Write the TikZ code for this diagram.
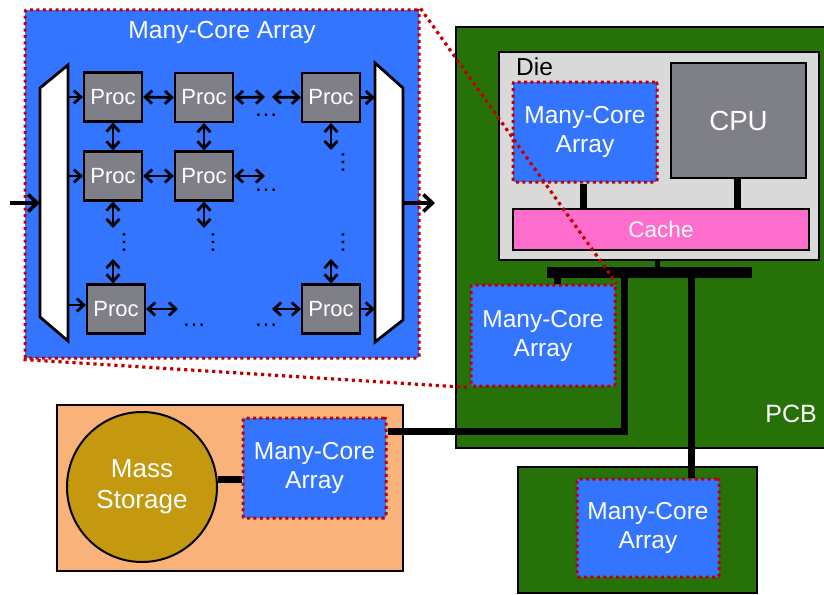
\documentclass[tikz,border=0pt]{standalone}
\usepackage{fontspec}
\setmainfont{Liberation Sans}
\usetikzlibrary{arrows.meta,calc}

\definecolor{mcblue}{RGB}{51,117,255}
\definecolor{pcbgreen}{RGB}{38,114,8}
\definecolor{procgray}{RGB}{127,127,136}
\definecolor{diegray}{RGB}{217,217,217}
\definecolor{cachepink}{RGB}{255,110,205}
\definecolor{peach}{RGB}{249,179,122}
\definecolor{storegold}{RGB}{196,153,16}
\definecolor{dotred}{RGB}{192,0,0}

\tikzset{
  mca/.style={draw=dotred, line width=3pt, dash pattern=on 3pt off 3.4pt,
    fill=mcblue, rounded corners=2pt, text=white, align=center, inner sep=0pt,
    font=\fontsize{24.5pt}{29pt}\selectfont},
  proc/.style={draw=black, line width=2.2pt, fill=procgray, minimum width=58pt,
    minimum height=49pt, text=white, inner sep=0pt,
    font=\fontsize{22pt}{26pt}\selectfont},
  board/.style={draw=black, line width=1.6pt},
  link/.style={draw=black, line width=7pt, line join=miter},
  barb/.tip={Straight Barb[length=7pt,width=13pt]},
  sarrow/.style={line width=2.8pt, -barb},
  darrow/.style={line width=2.8pt, barb-barb},
  ioarrow/.style={line width=3.6pt, -{Straight Barb[length=9pt,width=17pt]}},
  mux/.style={draw=black, line width=2.8pt, fill=white, line join=miter},
  elide/.style={inner sep=0pt, font=\fontsize{24pt}{24pt}\selectfont},
  zoomline/.style={draw=dotred, line width=3.2pt, dash pattern=on 3.2pt off 3.8pt},
  label/.style={inner sep=0pt, text=white, font=\fontsize{25pt}{30pt}\selectfont}
}

\begin{document}
\begin{tikzpicture}[x=1pt,y=-1pt]
\useasboundingbox (0,0) rectangle (824,594);

% ---------- expanded many-core array ----------
\node[mca, minimum width=394pt, minimum height=348pt] (bigarray) at (222,184) {};
\node[label, font=\fontsize{24.6pt}{29pt}\selectfont] (bigtitle) at (222,32) {Many-Core Array};

% input and output multiplexers
\node[minimum width=28pt, minimum height=278pt, inner sep=0pt] (muxL) at (54,203) {};
\node[minimum width=28pt, minimum height=279pt, inner sep=0pt] (muxR) at (389,202.5) {};
\draw[mux] (68,65) -- (68,341) -- (40,317) -- (40,88) -- cycle;
\draw[mux] (375,63) -- (403,88) -- (403,320) -- (375,342) -- cycle;

% processors
\node[proc] (p11) at (113,97) {Proc};
\node[proc] (p12) at (204,97.5) {Proc};
\node[proc] (p13) at (331,97.5) {Proc};
\node[proc] (p21) at (113,176) {Proc};
\node[proc] (p22) at (204,176) {Proc};
\node[proc] (p31) at (116,309) {Proc};
\node[proc] (p33) at (331,309) {Proc};

% open ends of the mesh
\coordinate (e1) at (265,97);
\coordinate (w1) at (272,97);
\coordinate (e2) at (265,176);
\coordinate (e3) at (178,309);
\coordinate (w3) at (272,309);
\coordinate (s13) at (331,150);
\coordinate (s21) at (113,228);
\coordinate (s22) at (204,228);
\coordinate (n31) at (113,259);
\coordinate (n33) at (331,259);

% mux to first column, last column to mux
\draw[sarrow] (muxL.east |- p11) -- (p11.west);
\draw[sarrow] (muxL.east |- p21) -- (p21.west);
\draw[sarrow] (muxL.east |- 0,305) -- (p31.west |- 0,305);
\draw[sarrow] (p13.east) -- (muxR.west |- p13);
\draw[sarrow] (p33.east) -- (muxR.west |- p33);
\draw[ioarrow] (10,203) -- (muxL.west |- 0,203);
\draw[ioarrow] (muxR.east |- 0,203) -- (435,203);

% horizontal mesh links
\draw[darrow] (p11.east) -- (p12.west);
\draw[darrow] (p12.east) -- (e1);
\draw[darrow] (w1) -- (p13.west);
\draw[darrow] (p21.east) -- (p22.west);
\draw[darrow] (p22.east) -- (e2);
\draw[darrow] (p31.east) -- (e3);
\draw[darrow] (w3) -- (p33.west);

% vertical mesh links
\draw[darrow] (p11.south) -- (p21.north);
\draw[darrow] (p12.south) -- (p22.north);
\draw[darrow] (p13.south) -- (s13);
\draw[darrow] (p21.south) -- (s21);
\draw[darrow] (p22.south) -- (s22);
\draw[darrow] (n31) -- (n31 |- p31.north);
\draw[darrow] (n33) -- (p33.north);

% elided processors
\node[elide] (h1) at (266,115) {…};
\node[elide] (h2) at (266,190) {…};
\node[elide] (h3) at (194,325) {…};
\node[elide] (h4) at (266,325) {…};
\node[elide, rotate=90] (v1) at (343,162) {…};
\node[elide, rotate=90] (v2) at (124,242) {…};
\node[elide, rotate=90] (v3) at (213,242) {…};
\node[elide, rotate=90] (v4) at (343,242) {…};

% ---------- printed circuit board ----------
\node[board, fill=pcbgreen, minimum width=380pt, minimum height=421pt, inner sep=0pt] (pcb) at (646,237.5) {};
\node[label, anchor=base east] (pcblabel) at (817,422) {PCB};

\node[board, fill=diegray, minimum width=320pt, minimum height=208pt, inner sep=0pt] (die) at (659,156) {};
\node[inner sep=0pt, anchor=west, font=\fontsize{24.5pt}{29pt}\selectfont] (dielabel) at (516,67) {Die};

\node[mca, minimum width=144pt, minimum height=100pt] (mcaD) at (585,132) {Many-Core\\Array};
\node[board, fill=procgray, minimum width=135pt, minimum height=115pt, inner sep=0pt,
  text=white, font=\fontsize{27.7pt}{32pt}\selectfont] (cpu) at (738.5,120.5) {CPU};
\node[board, fill=cachepink, minimum width=296pt, minimum height=41pt, inner sep=0pt,
  text=white, font=\fontsize{22.5pt}{27pt}\selectfont] (cache) at (661,229.5) {Cache};

\draw[link] (mcaD.south -| 583,0) -- (cache.north -| 583,0);
\draw[link] (cpu.south -| 737,0) -- (cache.north -| 737,0);

\node[fill=black, minimum width=205pt, minimum height=11pt, inner sep=0pt] (bus) at (649.5,272.5) {};
\draw[black, line width=5pt] (die.south -| 657,0) -- (bus.north -| 657,0);

\node[mca, minimum width=144pt, minimum height=101pt] (mcaP) at (543,335.5) {Many-Core\\Array};
\coordinate (tapA) at ([xshift=11pt]bus.south west);
\coordinate (tapB) at ([xshift=78pt]bus.south west);
\coordinate (tapC) at ([xshift=145pt]bus.south west);
\draw[link] (tapA) -- (tapA |- mcaP.north);

% ---------- storage board ----------
\node[board, fill=peach, minimum width=346pt, minimum height=166pt, inner sep=0pt] (store) at (230,488) {};
\node[draw=black, line width=2pt, circle, fill=storegold, minimum size=150pt, inner sep=0pt,
  text=white, align=center, font=\fontsize{26pt}{31pt}\selectfont] (mass) at (142,487) {Mass\\Storage};
\node[mca, minimum width=143pt, minimum height=100pt] (mcaS) at (314.5,468) {Many-Core\\Array};
\draw[link] (mass.6) -- (mass.6 -| mcaS.west);

% ---------- expansion board ----------
\node[board, fill=pcbgreen, minimum width=239pt, minimum height=126pt, inner sep=0pt] (ext) at (637.5,530) {};
\node[mca, minimum width=142pt, minimum height=98pt] (mcaB) at (648,528) {Many-Core\\Array};

% board-level links
\draw[link] ([yshift=-15pt]mcaS.north east) -| (tapB);
\draw[link] (tapC) -- (tapC |- mcaB.north);

% ---------- zoom lines ----------
\draw[zoomline] (bigarray.north east) -- (mcaP.north east);
\draw[zoomline] (bigarray.south west) -- (mcaP.south west);
\end{tikzpicture}
\end{document}
